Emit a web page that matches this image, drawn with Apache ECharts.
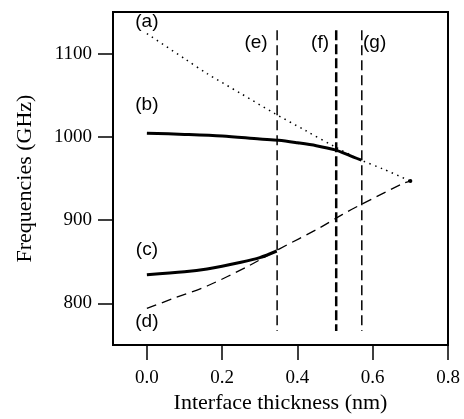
<!DOCTYPE html>
<html><head><meta charset="utf-8">
<script src="https://cdn.jsdelivr.net/npm/echarts@6/dist/echarts.min.js"></script>
<style>html,body{margin:0;padding:0;background:#fff}#c{width:464px;height:419px}</style>
</head><body><div id="c"></div>
<script>
const xTicks = [0, 0.2, 0.4, 0.6, 0.8];
const yTicks = [800, 900, 1000, 1100];
const curveA = [[0,1124],[0.1,1094],[0.16,1076],[0.25,1052],[0.34,1028],[0.42,1008],[0.5,988],[0.57,972],[0.63,961],[0.7,947]];
const curveB = [[0,1004.5],[0.1,1003],[0.2,1001],[0.3,997.5],[0.35,996],[0.4,993],[0.45,989.5],[0.5,984.5],[0.535,978.5],[0.57,972]];
const curveC = [[0,834.5],[0.1,838],[0.16,841.5],[0.25,849.5],[0.3,855],[0.345,863]];
const curveD = [[0,794],[0.07,806],[0.16,821],[0.27,845],[0.35,865],[0.46,891],[0.52,907],[0.57,919],[0.68,944],[0.7,947]];
const crossPoint = [[0.7,947]];
const vLineE = [[0.346,1128],[0.346,767]];
const vLineF = [[0.503,1128],[0.503,767]];
const vLineG = [[0.571,1128],[0.571,767]];
const labelTexts = ['(a)','(b)','(c)','(d)','(e)','(f)','(g)'];
const labelX = [0, 0, 0, 0, 0.29, 0.46, 0.605];
const labelY = [1138, 1039, 864, 778, 1113, 1113, 1113];

const chart = echarts.init(document.getElementById('c'), null, {renderer:'canvas'});
const serif = 'Liberation Serif';
const lineSeries = (data, width, type, z, smooth) => ({
  type:'line', data, showSymbol:false, symbol:'none', smooth: smooth === false ? false : 0.3, z: z||2,
  lineStyle:{color:'#000', width, type}, animation:false
});
chart.setOption({
  animation:false,
  grid:{left:113, top:12, right:16, bottom:72, show:true, borderColor:'#000', borderWidth:2, containLabel:false},
  xAxis:{type:'value', min:-0.09, max:0.8,
    name:'Interface thickness (nm)', nameLocation:'middle', nameGap:46,
    nameTextStyle:{fontFamily:serif, fontSize:22, color:'#000'},
    axisLine:{show:false, onZero:false}, splitLine:{show:false},
    axisTick:{show:true, inside:false, length:15, lineStyle:{color:'#000', width:1.5}, customValues:xTicks},
    axisLabel:{fontFamily:serif, fontSize:19, color:'#000', margin:23, customValues:xTicks,
      formatter:v=>v.toFixed(1)}},
  yAxis:{type:'value', min:750, max:1150,
    name:'Frequencies (GHz)', nameLocation:'middle', nameGap:77, nameRotate:90,
    nameTextStyle:{fontFamily:serif, fontSize:22, color:'#000'},
    axisLine:{show:false, onZero:false}, splitLine:{show:false},
    axisTick:{show:true, inside:false, length:15, lineStyle:{color:'#000', width:1.5}, customValues:yTicks},
    axisLabel:{fontFamily:serif, fontSize:19, color:'#000', margin:21, customValues:yTicks,
      formatter:v=>String(v)}},
  series:[
    lineSeries(curveA, 1.5, [1.5,4.5]),
    lineSeries(curveB, 3, 'solid', 3),
    lineSeries(curveC, 3, 'solid', 3),
    lineSeries(curveD, 1.3, [10,6]),
    lineSeries(vLineE, 1.5, [10,5], 2, false),
    lineSeries(vLineF, 2.5, [10,4], 2, false),
    lineSeries(vLineG, 1.5, [10,5], 2, false),
    {type:'scatter', data:crossPoint, symbolSize:4, itemStyle:{color:'#000', opacity:1}, animation:false},
    {type:'scatter', symbolSize:0, animation:false, itemStyle:{opacity:1},
      data: labelTexts.map((t,i)=>({value:[labelX[i], labelY[i]], name:t})),
      label:{show:true, position:'inside', formatter:p=>p.name, fontFamily:'Liberation Sans', fontSize:19, color:'#000'}}
  ]
});
</script></body></html>
